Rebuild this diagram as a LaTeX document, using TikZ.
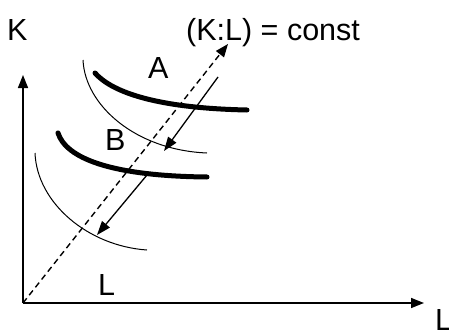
\documentclass[tikz,border=0pt]{standalone}
\usepackage{fontspec}
\setmainfont{Liberation Sans}
\usetikzlibrary{arrows.meta}
\begin{document}
\begin{tikzpicture}[x=1pt,y=-1pt,
  lbl/.style={anchor=base west,inner sep=0pt,font=\fontsize{30.5}{33}\selectfont},
  axis/.style={line width=1.5pt,-{Triangle[length=13pt,width=10pt]}},
  shiftarrow/.style={line width=1.3pt,-{Triangle[length=14pt,width=10pt]}},
  ray/.style={line width=1.4pt,dash pattern=on 6pt off 4pt,-{Triangle[length=13pt,width=10pt]}},
  quant/.style={line width=5pt},
  cost/.style={line width=1pt}]
\useasboundingbox (0,0) rectangle (449,329);
% coordinates
\coordinate (O) at (23,303);
\coordinate (Ky) at (23,75);
\coordinate (Lx) at (424,303);
\coordinate (R) at (228,44);
\coordinate (a1s) at (218,77);
\coordinate (a1e) at (164,151);
\coordinate (a2s) at (147,175);
\coordinate (a2e) at (97,235);
% labels
\node[lbl] (K) at (7,41) {K};
\node[lbl] (const) at (186,41) {(K:L) = const};
\node[lbl] (A) at (148,78) {A};
\node[lbl] (B) at (105,150) {B};
\node[lbl] (Lb) at (98,295) {L};
\node[lbl] (Lr) at (435,330.5) {L};
% axes
\draw[axis] (O) -- (Ky);
\draw[axis] (O) -- (Lx);
% ray
\draw[ray] (O) -- (R);
% curves
\draw[quant,line cap=round] (95,73) .. controls (110,90) and (150,108) .. (247,110);
\draw[cost] (83,60) .. controls (85,105) and (135,150) .. (207,153);
\draw[quant,line cap=round] (58,133) .. controls (66,158) and (110,176) .. (207,177);
\draw[cost] (35,153) .. controls (37,203) and (88,246) .. (147,250);
% shift arrows
\draw[shiftarrow] (a1s) -- (a1e);
\draw[shiftarrow] (a2s) -- (a2e);
\end{tikzpicture}
\end{document}
